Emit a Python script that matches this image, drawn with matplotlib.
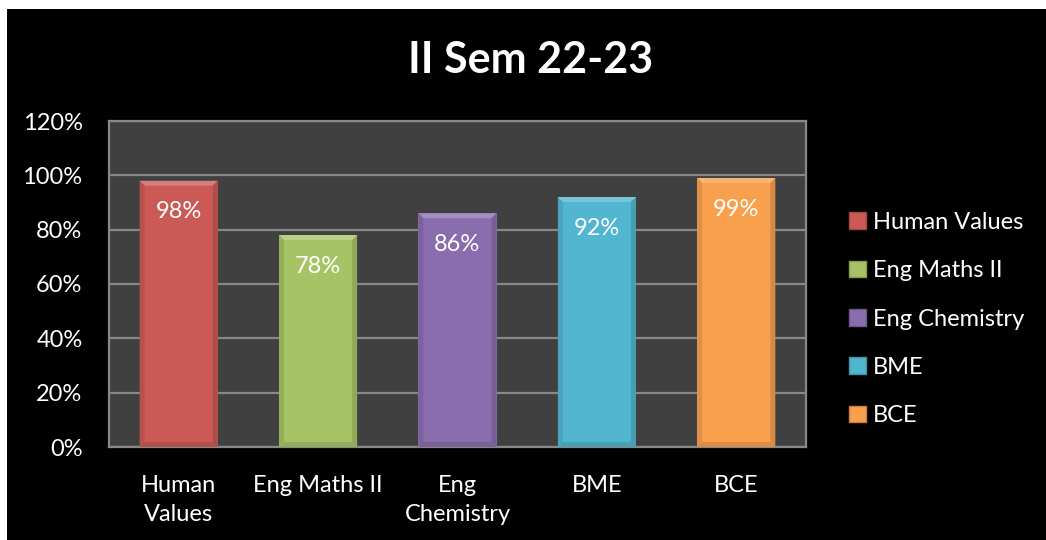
import matplotlib

matplotlib.use("Agg")
import matplotlib.pyplot as plt
from matplotlib.colors import to_rgb
from matplotlib.patches import Patch, Polygon, Rectangle

plt.rcParams["font.family"] = ["Lato", "DejaVu Sans"]

subjects = ["Human Values", "Eng Maths II", "Eng Chemistry", "BME", "BCE"]
tick_labels = ["Human\nValues", "Eng Maths II", "Eng\nChemistry", "BME", "BCE"]
pass_rates = [0.98, 0.78, 0.86, 0.92, 0.99]
colors = ["#CB5A56", "#A6C465", "#8A6DAE", "#52B6D0", "#F9A04E"]
y_ticks = [0.0, 0.2, 0.4, 0.6, 0.8, 1.0, 1.2]


def _shade(color, factor):
    r, g, b = to_rgb(color)
    if factor >= 1:
        return tuple(c + (1 - c) * (factor - 1) for c in (r, g, b))
    return tuple(c * factor for c in (r, g, b))


def _bevel(ax, x0, x1, top, color, dx=0.035, dy=0.018):
    # lighter top edge, slightly darker sides and bottom
    faces = [
        ([(x0, top), (x1, top), (x1 - dx, top - dy), (x0 + dx, top - dy)], 1.22),
        ([(x0, 0), (x0, top), (x0 + dx, top - dy), (x0 + dx, dy)], 0.9),
        ([(x1, 0), (x1, top), (x1 - dx, top - dy), (x1 - dx, dy)], 0.86),
        ([(x0, 0), (x1, 0), (x1 - dx, dy), (x0 + dx, dy)], 0.88),
    ]
    for pts, factor in faces:
        ax.add_patch(Polygon(pts, closed=True, facecolor=_shade(color, factor),
                             edgecolor="none", zorder=3))


fig = plt.figure(figsize=(10.46, 5.40), dpi=100, facecolor="white")
fig.patches.append(Rectangle((7 / 1046, 0), 1, 1 - 9 / 540, transform=fig.transFigure,
                             facecolor="black", edgecolor="none", zorder=-5))

ax = fig.add_axes([109 / 1046, 1 - 447 / 540, 697 / 1046, 326 / 540])
ax.set_facecolor("#404040")

positions = list(range(len(subjects)))
width = 0.56
bars = ax.bar(positions, pass_rates, width=width, color=colors, zorder=2)

for bar, value, color in zip(bars, pass_rates, colors):
    x0 = bar.get_x()
    _bevel(ax, x0, x0 + width, value, color)
    ax.annotate(f"{value * 100:.0f}%", (bar.get_x() + width / 2, value),
                xytext=(0, -31), textcoords="offset pixels",
                ha="center", va="center", color="white", fontsize=17, zorder=4)

ax.set_xlim(-0.5, len(subjects) - 0.5)
ax.set_ylim(0, 1.2)
ax.set_yticks(y_ticks)
ax.set_yticklabels([f"{t * 100:.0f}%" for t in y_ticks])
ax.set_xticks(positions)
ax.set_xticklabels(tick_labels, linespacing=1.5)
ax.tick_params(axis="y", length=0, pad=19, colors="white", labelsize=17)
ax.tick_params(axis="x", length=0, pad=20, colors="white", labelsize=17)
ax.yaxis.grid(True, color="#888888", linewidth=1.6, zorder=1)
ax.set_axisbelow(True)
for spine in ax.spines.values():
    spine.set_color("#888888")
    spine.set_linewidth(1.6)

fig.text(531 / 1046, 1 - 60 / 540, "II Sem 22-23", ha="center", va="center",
         color="white", fontsize=31, fontweight="bold")

handles = [Patch(facecolor=c, edgecolor=_shade(c, 0.8)) for c in colors]
fig.legend(handles, subjects, loc="center left", bbox_to_anchor=(828 / 1046, 1 - 319 / 540),
           frameon=False, fontsize=17, labelcolor="white", handlelength=0.7,
           handleheight=0.7, handletextpad=0.3, labelspacing=1.16)

fig.savefig("out.png", dpi=100, facecolor=fig.get_facecolor())
